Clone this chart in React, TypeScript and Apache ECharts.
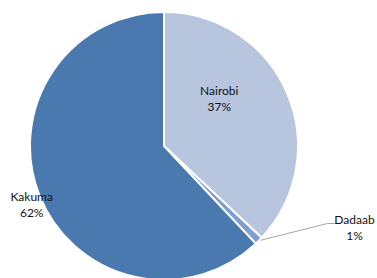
import React, { useEffect, useRef } from "react";
import * as echarts from "echarts";

const categories = ["Nairobi", "Dadaab", "Kakuma"];
const values = [37, 1, 62];
const colors = ["#b7c5df", "#7f9fd2", "#4a79b0"];

export default function App() {
  const ref = useRef<HTMLDivElement>(null);
  useEffect(() => {
    document.body.style.margin = "0";
    const chart = echarts.init(ref.current!, null, { renderer: "svg" });
    const total = values.reduce((a, b) => a + b, 0);
    const positions = ["inside", "outside", "outside"];
    chart.setOption({
      animation: false,
      backgroundColor: "#ffffff",
      series: [
        {
          type: "pie",
          center: [164, 146],
          radius: 134,
          startAngle: 90,
          clockwise: true,
          avoidLabelOverlap: false,
          itemStyle: { borderColor: "#ffffff", borderWidth: 2 },
          data: categories.map((name, i) => ({
            name,
            value: values[i],
            itemStyle: { color: colors[i] },
            label: {
              position: positions[i],
            },
            labelLine:
              i === 1
                ? { show: true, length: 18, length2: 55, lineStyle: { color: "#a6a6a6", width: 1 } }
                : { show: false, length: 4, length2: 0 },
          })),
          label: {
            show: true,
            formatter: (p: any) =>
              `{t|${p.name}}\n{t|${Math.round((p.value / total) * 100)}%}`,
            rich: {
              t: {
                fontFamily: "Lato",
                fontSize: 12,
                color: "#111111",
                width: 50,
                align: "center",
                lineHeight: 16,
              },
            },
          },
          labelLayout: (p: any) => {
            if (p.dataIndex === 0) return { dx: -9, dy: -20 };
            if (p.dataIndex === 1) {
              const dx = -2;
              const dy = -26;
              const r = p.labelRect;
              const start = p.labelLinePoints ? p.labelLinePoints[0] : [260, 238];
              const ex = r.x + dx + 6;
              const ey = r.y + dy + r.height / 2 - 4;
              return {
                dx,
                dy,
                labelLinePoints: [start, [ex - 8, ey], [ex, ey]],
              };
            }
            if (p.dataIndex === 2) return { dx: 26, dy: 8 };
            return {};
          },
        },
      ],
    });
    return () => chart.dispose();
  }, []);
  return (
    <div
      ref={ref}
      style={{ position: "fixed", left: 0, top: 0, width: 377, height: 278 }}
    />
  );
}
